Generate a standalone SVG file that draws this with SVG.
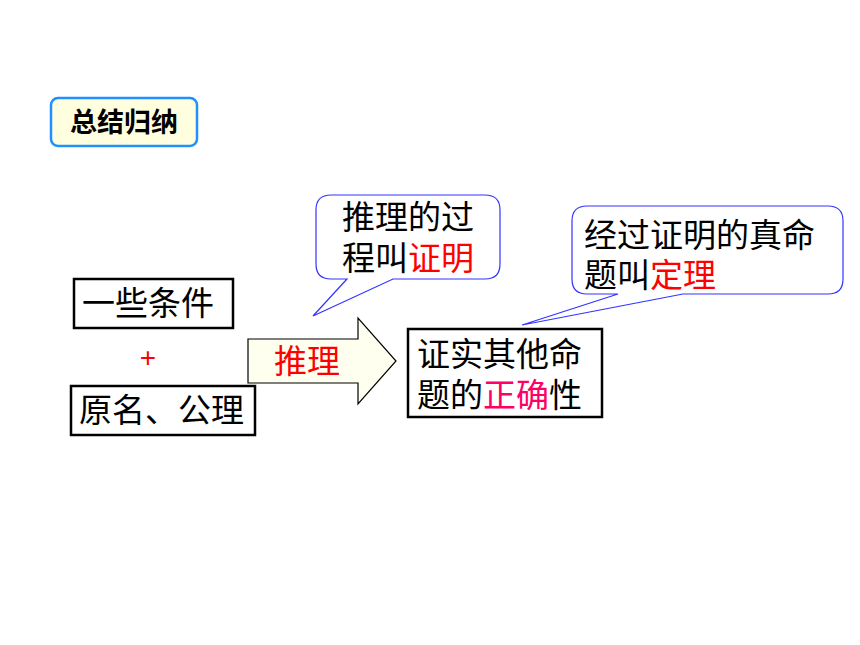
<svg xmlns="http://www.w3.org/2000/svg" width="860" height="645" viewBox="0 0 860 645">
<style>
  text { font-family: "Noto Sans CJK SC", "Noto Sans", sans-serif; font-size: 33px; fill: #000; }
  .red { fill: #FF0000; }
  .pink { fill: #FF0066; }
  .box { fill: #FFFFFF; stroke: #000; stroke-width: 2.5; }
  .callout { fill: #FFFFFF; stroke: #3333FF; stroke-width: 1.2; }
  .title { font-size: 27px; font-weight: bold; }
</style>
<rect width="860" height="645" fill="#FFFFFF"/>

<g id="title">
  <rect x="51" y="98" width="146" height="48" rx="7" ry="7" fill="#FFFFE0" stroke="#1E90FF" stroke-width="2.5"/>
  <text class="title" x="124" y="132" text-anchor="middle">总结归纳</text>
</g>

<g id="conditions">
  <rect class="box" x="74" y="279" width="159" height="49"/>
  <text x="82" y="315">一些条件</text>
</g>

<g id="plus">
  <text x="148" y="367" text-anchor="middle" style="font-family:'Liberation Sans',sans-serif;font-size:28px;fill:#FF0000">+</text>
</g>

<g id="axioms">
  <rect class="box" x="71" y="386" width="184" height="49"/>
  <text x="79" y="422">原名、公理</text>
</g>

<g id="connectors">
  <g id="arrow-reasoning">
    <path d="M248,339 L358,339 L358,318 L396,361 L358,404 L358,383 L248,383 Z" fill="#FFFFF0" stroke="#000" stroke-width="1.2"/>
    <text class="red" x="274" y="373">推理</text>
  </g>
</g>

<g id="result">
  <rect class="box" x="408" y="329" width="194" height="88"/>
  <text x="417" y="366">证实其他命</text>
  <text x="417" y="407">题的</text>
  <text class="pink" x="483" y="407">正确</text>
  <text x="549" y="407">性</text>
</g>

<g id="callout-proof">
  <path class="callout" d="M331,195 L485,195 Q500,195 500,210 L500,264 Q500,279 485,279 L393,279 L313,316 L347,279 L331,279 Q316,279 316,264 L316,210 Q316,195 331,195 Z"/>
  <text x="342" y="229">推理的过</text>
  <text x="342" y="270">程叫</text>
  <text class="red" x="408" y="270">证明</text>
</g>

<g id="callout-theorem">
  <path class="callout" d="M587,206 L828,206 Q843,206 843,221 L843,279 Q843,294 828,294 L683,294 L522,325 L618,294 L587,294 Q572,294 572,279 L572,221 Q572,206 587,206 Z"/>
  <text x="584" y="247">经过证明的真命</text>
  <text x="584" y="287">题叫</text>
  <text class="red" x="650" y="287">定理</text>
</g>
</svg>
